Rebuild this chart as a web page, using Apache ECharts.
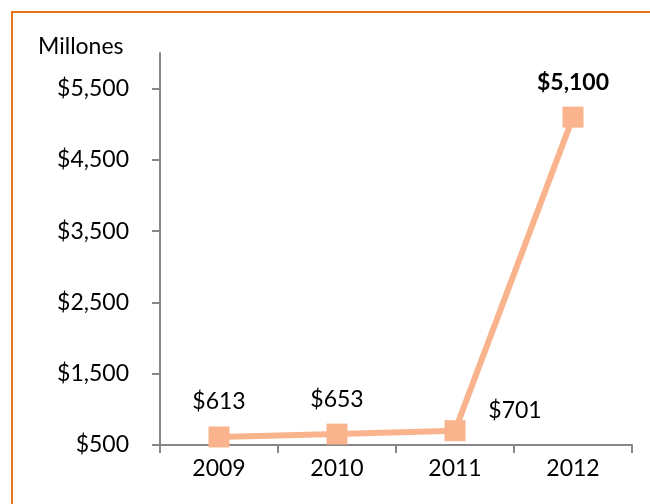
<!DOCTYPE html>
<html>
<head>
<meta charset="utf-8">
<script src="https://cdn.jsdelivr.net/npm/echarts@6/dist/echarts.min.js"></script>
<style>html,body{margin:0;padding:0;background:#fff}#c{width:650px;height:504px}</style>
</head>
<body>
<div id="c"></div>
<script>
const years = ['2009', '2010', '2011', '2012'];
const values = [613, 653, 701, 5100];
const yTicks = [500, 1500, 2500, 3500, 4500, 5500];
const unitLabel = 'Millones';

const fmt = v => '$' + v.toLocaleString('en-US');
const FONT = 'Lato';
const FS = 23;
const lineColor = '#F9B48D';

const data = values.map((v, i) => {
  const d = { value: v };
  if (i === 2) d.label = { offset: [60, 15] };
  if (i === 3) d.label = { fontWeight: 'bold' };
  return d;
});

const chart = echarts.init(document.getElementById('c'));
chart.setOption({
  animation: false,
  textStyle: { fontFamily: FONT },
  graphic: [
    { type: 'rect', shape: { x: 12, y: 12, width: 700, height: 600 }, style: { fill: 'none', stroke: '#E8741A', lineWidth: 2 } },
    { type: 'text', left: 38, top: 35, style: { text: unitLabel, fontSize: FS, fontFamily: FONT, fill: '#000' } }
  ],
  grid: { left: 160, right: 18, top: 53, bottom: 59 },
  xAxis: {
    type: 'category', data: years, boundaryGap: true,
    axisLine: { lineStyle: { color: '#868686', width: 2 } },
    axisTick: { show: true, length: 8, lineStyle: { color: '#868686', width: 2 } },
    axisLabel: { fontSize: FS, color: '#000', margin: 12, fontFamily: FONT }
  },
  yAxis: {
    type: 'value', min: 500, max: 6000, interval: 500,
    splitLine: { show: false },
    axisLine: { show: true, lineStyle: { color: '#868686', width: 2 } },
    axisTick: { show: true, length: 8, customValues: yTicks, lineStyle: { color: '#868686', width: 2 } },
    axisLabel: { customValues: yTicks, fontSize: FS, color: '#000', margin: 31, fontFamily: FONT, formatter: v => fmt(v) }
  },
  series: [{
    type: 'line', data: data,
    symbol: 'rect', symbolSize: 21,
    lineStyle: { color: lineColor, width: 6 },
    itemStyle: { color: lineColor },
    label: { show: true, position: 'top', distance: 13, fontSize: FS, color: '#000', fontFamily: FONT, formatter: p => fmt(p.value) }
  }]
});
</script>
</body>
</html>
